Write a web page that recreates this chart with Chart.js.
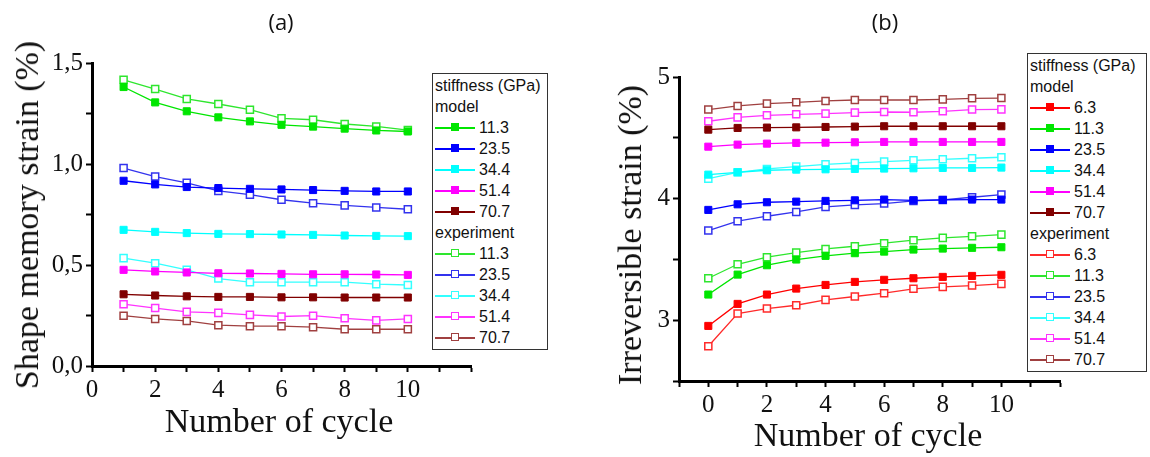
<!DOCTYPE html>
<html lang="en">
<head>
<meta charset="utf-8">
<script src="https://cdn.jsdelivr.net/npm/chart.js@4.4.1/dist/chart.umd.min.js"></script>
<style>
  html, body { margin: 0; padding: 0; background: #fff; }
  body { width: 1150px; height: 457px; position: relative; overflow: hidden; }
  .panel { position: absolute; top: 0; width: 575px; height: 457px; }
  .ttl { position: absolute; font-family: "Open Sans", "DejaVu Sans", sans-serif; font-size: 22px; color: #111; transform: translateX(-50%); }
  .ytitle { position: absolute; font-family: "Liberation Serif", "Times New Roman", serif; font-size: 34px; color: #111;
            white-space: nowrap; transform: translate(-50%, -50%) rotate(-90deg); }
  .xtitle { position: absolute; font-family: "Liberation Serif", "Times New Roman", serif; font-size: 34px; color: #111;
            white-space: nowrap; transform: translateX(-50%); }
  .legend { position: absolute; border: 1px solid #333; background: #fff; padding: 1px 3px 1px 2px;
            font-family: "Liberation Sans", Arial, sans-serif; font-size: 16px; color: #111; }
  .legend div { height: 21px; line-height: 21px; white-space: nowrap; }
  .sym { display: inline-block; position: relative; width: 40px; height: 21px; vertical-align: top; margin-right: 4px; }
  .sym .ln { position: absolute; left: 0; right: 0; top: 10px; height: 1.5px; }
  .sym .sq { position: absolute; left: 16px; top: 6px; width: 8px; height: 8px; box-sizing: border-box; }
</style>
</head>
<body>
  <div class="panel" style="left:0"><canvas id="chartA"></canvas></div>
  <div class="panel" style="left:575px"><canvas id="chartB"></canvas></div>

  <div class="ttl" style="left:281px; top:6px">(a)</div>
  <div class="ttl" style="left:885px; top:6px">(b)</div>

  <div class="ytitle" style="left:27px; top:215px">Shape memory strain (%)</div>
  <div class="ytitle" style="left:630px; top:235px">Irreversible strain (%)</div>
  <div class="xtitle" style="left:279px; top:402px">Number of cycle</div>
  <div class="xtitle" style="left:868px; top:416px">Number of cycle</div>

  <div class="legend" id="legendA" style="left:432px; top:73px; width:109px"></div>
  <div class="legend" id="legendB" style="left:1027px; top:53px; width:113px"></div>

<script>
// ---- data ----
const cyclesA = [1, 2, 3, 4, 5, 6, 7, 8, 9, 10];
const cyclesB = [0, 1, 2, 3, 4, 5, 6, 7, 8, 9, 10];

// (a) shape memory strain (%)
const stiffA = ['11.3', '23.5', '34.4', '51.4', '70.7'];
const modelA_113 = [1.381, 1.305, 1.261, 1.231, 1.211, 1.194, 1.185, 1.175, 1.166, 1.161];
const modelA_235 = [0.917, 0.899, 0.886, 0.881, 0.877, 0.874, 0.871, 0.867, 0.864, 0.864];
const modelA_344 = [0.674, 0.664, 0.658, 0.654, 0.653, 0.651, 0.649, 0.646, 0.644, 0.643];
const modelA_514 = [0.476, 0.468, 0.463, 0.459, 0.458, 0.456, 0.454, 0.454, 0.453, 0.451];
const modelA_707 = [0.355, 0.349, 0.345, 0.342, 0.342, 0.340, 0.340, 0.339, 0.339, 0.339];
const expA_113 = [1.417, 1.371, 1.322, 1.297, 1.269, 1.226, 1.219, 1.198, 1.186, 1.168];
const expA_235 = [0.980, 0.938, 0.907, 0.867, 0.848, 0.823, 0.806, 0.795, 0.785, 0.776];
const expA_344 = [0.534, 0.509, 0.476, 0.433, 0.415, 0.415, 0.415, 0.415, 0.405, 0.401];
const expA_514 = [0.306, 0.287, 0.268, 0.263, 0.253, 0.245, 0.249, 0.236, 0.226, 0.233];
const expA_707 = [0.249, 0.233, 0.223, 0.202, 0.197, 0.197, 0.192, 0.182, 0.182, 0.182];

// (b) irreversible strain (%)
const stiffB = ['6.3', '11.3', '23.5', '34.4', '51.4', '70.7'];
const modelB_63  = [2.953, 3.134, 3.211, 3.260, 3.290, 3.315, 3.332, 3.345, 3.356, 3.364, 3.373];
const modelB_113 = [3.211, 3.375, 3.452, 3.499, 3.529, 3.551, 3.564, 3.581, 3.589, 3.595, 3.600];
const modelB_235 = [3.907, 3.953, 3.970, 3.975, 3.981, 3.986, 3.992, 3.986, 3.989, 3.992, 3.992];
const modelB_344 = [4.197, 4.216, 4.233, 4.238, 4.241, 4.244, 4.247, 4.249, 4.252, 4.252, 4.255];
const modelB_514 = [4.427, 4.444, 4.452, 4.458, 4.460, 4.463, 4.466, 4.466, 4.466, 4.466, 4.466];
const modelB_707 = [4.567, 4.581, 4.584, 4.586, 4.589, 4.592, 4.595, 4.595, 4.595, 4.595, 4.595];
const expB_63  = [2.786, 3.055, 3.096, 3.123, 3.167, 3.195, 3.222, 3.258, 3.274, 3.285, 3.299];
const expB_113 = [3.345, 3.460, 3.518, 3.556, 3.586, 3.608, 3.633, 3.658, 3.677, 3.690, 3.704];
const expB_235 = [3.737, 3.814, 3.855, 3.890, 3.932, 3.948, 3.959, 3.981, 3.989, 4.011, 4.033];
const expB_344 = [4.164, 4.216, 4.244, 4.263, 4.282, 4.293, 4.304, 4.315, 4.323, 4.332, 4.340];
const expB_514 = [4.636, 4.668, 4.685, 4.693, 4.699, 4.707, 4.712, 4.710, 4.718, 4.732, 4.734];
const expB_707 = [4.732, 4.762, 4.781, 4.792, 4.803, 4.811, 4.811, 4.811, 4.816, 4.825, 4.827];

// colours per stiffness
const modelColor = { '6.3': '#ff0000', '11.3': '#00e600', '23.5': '#0000ff', '34.4': '#00ffff', '51.4': '#ff00ff', '70.7': '#800000' };
const expColor   = { '6.3': '#ff2a2a', '11.3': '#2ee62e', '23.5': '#3333ee', '34.4': '#33ffff', '51.4': '#ff33ff', '70.7': '#a04040' };

const serif = "'Liberation Serif', 'Times New Roman', serif";
Chart.defaults.font.family = serif;

function makeSet(cycles, values, color, filled) {
    return {
        data: cycles.map((c, i) => ({ x: c, y: values[i] })),
        borderColor: color,
        backgroundColor: filled ? color : '#ffffff',
        borderWidth: 1.3,
        pointStyle: 'rect',
        pointRadius: 5,
        pointHoverRadius: 5,
        pointBorderWidth: filled ? 1 : 1.5,
        pointBorderColor: color,
        pointBackgroundColor: filled ? color : '#ffffff',
        tension: 0,
        fill: false
    };
}

function buildLegend(el, labels) {
    let html = '<div>stiffness (GPa)</div><div>model</div>';
    labels.forEach(l => {
        html += '<div><span class="sym"><span class="ln" style="background:' + modelColor[l] + '"></span>' +
                '<span class="sq" style="background:' + modelColor[l] + '"></span></span>' + l + '</div>';
    });
    html += '<div>experiment</div>';
    labels.forEach(l => {
        html += '<div><span class="sym"><span class="ln" style="background:' + expColor[l] + '"></span>' +
                '<span class="sq" style="background:#fff;border:1.5px solid ' + expColor[l] + '"></span></span>' + l + '</div>';
    });
    el.innerHTML = html;
}

function axisOpts(min, max, step, labelFn, fixSize) {
    return {
        type: 'linear',
        min: min,
        max: max,
        border: { display: true, color: '#000', width: 3 },
        grid: { display: true, drawOnChartArea: false, drawTicks: true, tickLength: 6, tickColor: '#000', tickWidth: 2 },
        ticks: {
            stepSize: step,
            autoSkip: false,
            maxRotation: 0,
            padding: 3,
            color: '#111',
            font: { family: serif, size: 25 },
            callback: labelFn
        },
        afterFit: fixSize
    };
}

function makeChart(id, sets, xAxis, yAxis, padding) {
    return new Chart(document.getElementById(id), {
        type: 'line',
        data: { datasets: sets },
        options: {
            responsive: true,
            maintainAspectRatio: false,
            animation: false,
            layout: { padding: padding },
            plugins: { legend: { display: false }, tooltip: { enabled: false } },
            scales: { x: xAxis, y: yAxis }
        }
    });
}

const evenLabel = v => (v >= 0 && v <= 10 && v % 2 === 0) ? String(v) : '';

function drawAll() {
    // ---- chart (a) ----
    const setsA = [];
    [modelA_113, modelA_235, modelA_344, modelA_514, modelA_707].forEach((d, i) => setsA.push(makeSet(cyclesA, d, modelColor[stiffA[i]], true)));
    [expA_113, expA_235, expA_344, expA_514, expA_707].forEach((d, i) => setsA.push(makeSet(cyclesA, d, expColor[stiffA[i]], false)));

    makeChart('chartA', setsA,
        axisOpts(0, 12, 1, evenLabel, s => { s.height = 40; }),
        axisOpts(0, 1.5, 0.25, v => {
            const k = v * 2;
            return Math.abs(k - Math.round(k)) < 1e-6 ? v.toFixed(1).replace('.', ',') : '';
        }, s => { s.width = 80; }),
        { left: 12, right: 104, top: 63, bottom: 51 });

    // ---- chart (b) ----
    const setsB = [];
    [modelB_63, modelB_113, modelB_235, modelB_344, modelB_514, modelB_707].forEach((d, i) => setsB.push(makeSet(cyclesB, d, modelColor[stiffB[i]], true)));
    [expB_63, expB_113, expB_235, expB_344, expB_514, expB_707].forEach((d, i) => setsB.push(makeSet(cyclesB, d, expColor[stiffB[i]], false)));

    makeChart('chartB', setsB,
        axisOpts(-1, 12, 1, evenLabel, s => { s.height = 40; }),
        axisOpts(2.5, 5, 0.5, v => Math.abs(v - Math.round(v)) < 1e-6 ? String(v) : '', s => { s.width = 80; }),
        { left: 24, right: 90, top: 77, bottom: 36 });
}

buildLegend(document.getElementById('legendA'), stiffA);
buildLegend(document.getElementById('legendB'), stiffB);

if (document.fonts && document.fonts.load) {
    document.fonts.load("25px 'Liberation Serif'").then(drawAll, drawAll);
} else {
    drawAll();
}
</script>
</body>
</html>
